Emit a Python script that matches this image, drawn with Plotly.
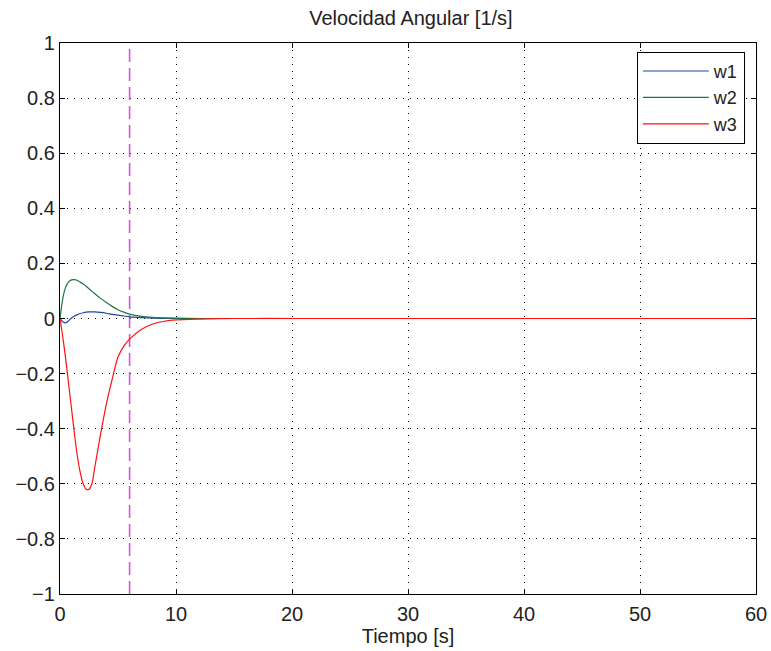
import plotly.graph_objects as go

t = [0, 0.25, 0.5, 0.75, 1.0, 1.25, 1.5, 1.75, 2.0, 2.25, 2.5, 2.75, 3.0, 3.5, 4.0,
     4.5, 5.0, 5.5, 6.0, 7.0, 8.0, 9.0, 10.0, 12.0, 15.0, 20.0, 30.0, 40.0, 50.0, 60.0]

w1 = [0, -0.012, -0.016, -0.008, 0.002, 0.009, 0.014, 0.018, 0.021, 0.023, 0.024, 0.024, 0.024,
      0.022, 0.019, 0.015, 0.012, 0.009, 0.006, 0.003, 0.001, 0.0005, 0, 0, 0, 0, 0, 0, 0, 0]

w2 = [0, 0.075, 0.115, 0.133, 0.140, 0.141, 0.138, 0.132, 0.125, 0.117, 0.108, 0.099, 0.090,
      0.073, 0.058, 0.044, 0.032, 0.023, 0.016, 0.008, 0.004, 0.002, 0.001, 0, 0, 0, 0, 0, 0, 0]

w3 = [0, -0.07, -0.15, -0.24, -0.33, -0.42, -0.50, -0.56, -0.60, -0.62, -0.62, -0.60, -0.54,
      -0.42, -0.31, -0.22, -0.14, -0.10, -0.075, -0.04, -0.02, -0.01, -0.005, -0.002, 0, 0, 0, 0, 0, 0]

marker_t = [6, 6]
marker_y = [-1, 1]

x_ticks = [0, 10, 20, 30, 40, 50, 60]
y_ticks = [-1, -0.8, -0.6, -0.4, -0.2, 0, 0.2, 0.4, 0.6, 0.8, 1]
y_labels = ["\u22121", "\u22120.8", "\u22120.6", "\u22120.4", "\u22120.2", "0", "0.2", "0.4", "0.6", "0.8", "1"]

fig = go.Figure()
fig.add_trace(go.Scatter(x=marker_t, y=marker_y, mode="lines", showlegend=False,
                         line=dict(color="#d855d8", width=1.6, dash="13px,6px")))
fig.add_trace(go.Scatter(x=t, y=w1, mode="lines", name="w1", line=dict(color="#26449f", width=1.2, shape="spline", smoothing=0.8)))
fig.add_trace(go.Scatter(x=t, y=w2, mode="lines", name="w2", line=dict(color="#1a7a3c", width=1.2, shape="spline", smoothing=0.8)))
fig.add_trace(go.Scatter(x=t, y=w3, mode="lines", name="w3", line=dict(color="#ff1010", width=1.2, shape="spline", smoothing=0.8)))

axis_common = dict(showline=True, linecolor="black", linewidth=1.2, mirror="ticks",
                   ticks="inside", ticklen=5, tickcolor="black", automargin=False,
                   showgrid=True, gridcolor="black", gridwidth=1, griddash="1px,6px",
                   zeroline=False, tickfont=dict(size=20, color="#222222"))

fig.update_layout(
    width=771, height=651,
    margin=dict(l=60, r=15, t=43, b=57),
    paper_bgcolor="white", plot_bgcolor="white",
    font=dict(family="Liberation Sans, Arial, sans-serif", color="#222222"),
    title=dict(text="Velocidad Angular [1/s]", x=0.533, xanchor="center", y=0.972, yanchor="middle",
               font=dict(size=20, color="#222222")),
    xaxis=dict(range=[0, 60], tickvals=x_ticks, title=dict(text="Tiempo [s]", font=dict(size=20), standoff=2),
               ticklabelstandoff=2, **axis_common),
    yaxis=dict(range=[-1, 1], tickvals=y_ticks, ticktext=y_labels, **axis_common),
    legend=dict(x=0.984, xanchor="right", y=0.984, yanchor="top", bgcolor="white",
                bordercolor="black", borderwidth=1, font=dict(size=18, color="#222222"),
                tracegroupgap=0, itemwidth=66),
    showlegend=True,
)

fig.write_html("out.html")
